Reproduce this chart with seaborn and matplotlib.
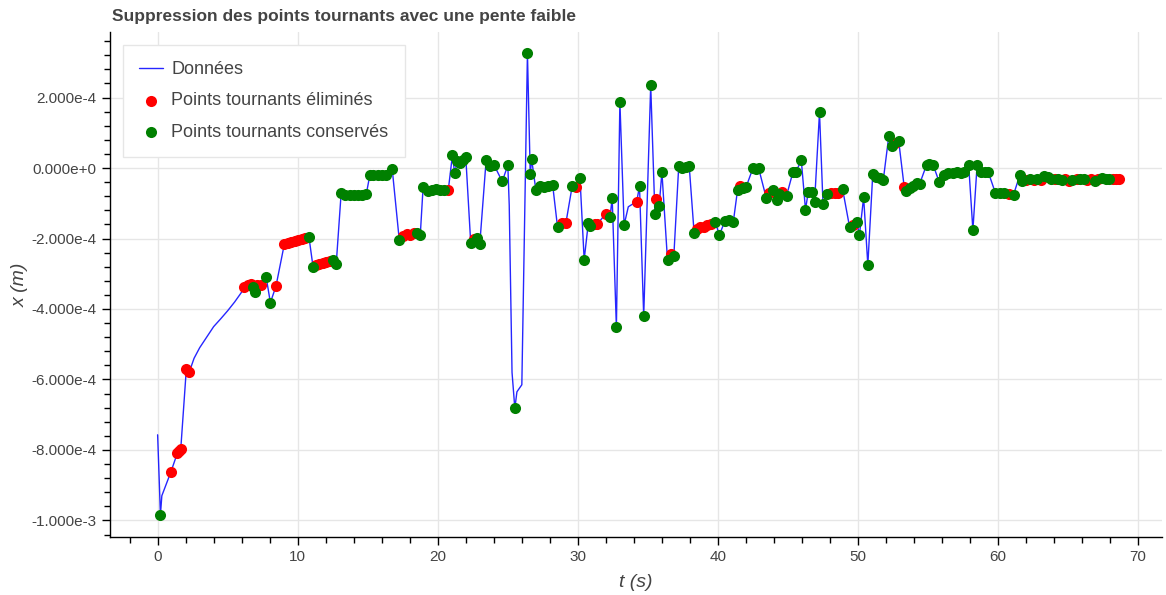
import numpy as np
import pandas as pd
import matplotlib
matplotlib.use("Agg")
import matplotlib.pyplot as plt
from matplotlib.ticker import MultipleLocator, AutoMinorLocator, FuncFormatter
import seaborn as sns

sns.set_theme(style="white")
plt.rcParams["font.family"] = ["Liberation Sans", "DejaVu Sans"]

# données : t (s), x (1e-4 m), statut du point
# n = simple point de la courbe, e = point tournant éliminé, c = point tournant conservé
t_vals = [
    0.00, 0.20, 0.30, 0.95, 1.40, 1.55, 1.65, 2.05, 2.25,
    2.60, 3.00, 3.50, 4.00, 4.50, 5.00, 5.50, 6.00,
    6.20, 6.45, 6.70, 6.80, 6.95, 7.10, 7.35, 7.75, 8.05, 8.45,
    9.05, 9.30, 9.55, 9.80, 10.05, 10.30, 10.50, 10.80,
    11.10, 11.30, 11.55, 11.80, 12.05, 12.30, 12.55, 12.75,
    13.10, 13.40, 13.70, 14.00, 14.30, 14.60, 14.90,
    15.15, 15.40, 15.70, 16.00, 16.30, 16.75,
    17.25, 17.55, 17.80, 18.05, 18.30, 18.55, 18.75,
    18.95, 19.30, 19.60, 19.90, 20.15, 20.45, 20.75,
    21.05, 21.20, 21.40, 21.60, 21.80, 22.00,
    22.35, 22.60, 22.80, 23.00,
    23.45, 23.70, 24.00, 24.60, 25.00,
    25.10, 25.30, 25.50, 25.65, 26.00, 26.40, 26.60, 26.70,
    27.00, 27.30, 27.60, 27.90, 28.20,
    28.55, 28.85, 29.15, 29.60, 29.90, 30.15,
    30.45, 30.75, 30.90, 31.20, 31.40,
    32.00, 32.30, 32.45, 32.75, 33.00, 33.30, 33.60,
    34.20, 34.40, 34.70, 35.20, 35.50, 35.60, 35.80, 36.00,
    36.40, 36.65, 36.85,
    37.20, 37.45, 37.70, 37.95,
    38.30, 38.50, 38.75, 39.00, 39.25, 39.50, 39.80, 40.10,
    40.50, 40.80, 41.10, 41.40, 41.60, 41.80, 42.00,
    42.50, 42.70, 42.90,
    43.45, 43.65, 43.95, 44.20, 44.35, 44.60, 44.90,
    45.35, 45.55, 45.95, 46.25, 46.45, 46.70, 46.90,
    47.25, 47.50, 47.80, 48.10, 48.35, 48.60, 48.90,
    49.40, 49.65, 49.90, 50.10, 50.40, 50.70,
    51.05, 51.30, 51.55, 51.80,
    52.20, 52.40, 52.65, 52.90,
    53.30, 53.45, 53.70, 53.95, 54.20, 54.40,
    54.90, 55.10, 55.35,
    55.80, 56.15, 56.45, 56.75, 57.05, 57.35, 57.60,
    57.90, 58.20, 58.50, 58.75, 59.05, 59.30,
    59.80, 60.10, 60.40, 60.80, 61.10,
    61.55, 61.70,
    62.00, 62.30, 62.55, 62.80, 63.05, 63.30, 63.55, 63.80, 64.05, 64.30,
    64.55, 64.80, 65.05, 65.30, 65.60, 65.85, 66.10, 66.35, 66.60, 66.90,
    67.15, 67.45, 67.70, 67.95, 68.20, 68.45, 68.60,
]
x_vals = [
    -7.57, -9.84, -9.30, -8.62, -8.10, -8.02, -7.98, -5.70, -5.80,
    -5.40, -5.10, -4.80, -4.50, -4.28, -4.05, -3.80, -3.52,
    -3.37, -3.32, -3.28, -3.37, -3.52, -3.33, -3.33, -3.10, -3.82, -3.35,
    -2.15, -2.13, -2.10, -2.07, -2.04, -2.00, -1.98, -1.95,
    -2.82, -2.76, -2.73, -2.70, -2.68, -2.65, -2.60, -2.72,
    -0.72, -0.76, -0.76, -0.76, -0.77, -0.77, -0.73,
    -0.20, -0.21, -0.21, -0.21, -0.20, -0.04,
    -2.04, -1.92, -1.88, -1.90, -1.83, -1.85, -1.90,
    -0.55, -0.65, -0.62, -0.60, -0.62, -0.62, -0.62,
    0.38, -0.15, 0.20, 0.15, 0.22, 0.30,
    -2.12, -2.00, -1.98, -2.15,
    0.22, 0.05, 0.10, -0.38, 0.08,
    -1.05, -5.80, -6.82, -6.35, -6.15, 3.26, -0.18, 0.25,
    -0.62, -0.52, -0.55, -0.50, -0.48,
    -1.68, -1.55, -1.55, -0.50, -0.55, -0.27,
    -2.60, -1.55, -1.65, -1.60, -1.58,
    -1.30, -1.38, -0.85, -4.52, 1.88, -1.62, -1.10,
    -0.95, -0.52, -4.20, 2.35, -1.30, -0.88, -1.08, -0.12,
    -2.62, -2.45, -2.50,
    0.05, 0.00, 0.02, 0.05,
    -1.85, -1.72, -1.68, -1.66, -1.63, -1.60, -1.52, -1.90,
    -1.50, -1.48, -1.52, -0.62, -0.50, -0.58, -0.55,
    0.00, -0.02, 0.00,
    -0.85, -0.72, -0.62, -0.90, -0.75, -0.68, -0.78,
    -0.12, -0.12, 0.22, -1.18, -0.67, -0.68, -0.95,
    1.58, -1.03, -0.75, -0.72, -0.72, -0.70, -0.60,
    -1.68, -1.62, -1.52, -1.90, -0.83, -2.75,
    -0.18, -0.25, -0.28, -0.35,
    0.92, 0.62, 0.70, 0.78,
    -0.55, -0.65, -0.58, -0.50, -0.42, -0.45,
    0.10, 0.12, 0.10,
    -0.40, -0.20, -0.15, -0.13, -0.12, -0.14, -0.12,
    0.08, -1.76, 0.08, -0.12, -0.12, -0.12,
    -0.70, -0.72, -0.72, -0.74, -0.76,
    -0.20, -0.37,
    -0.33, -0.30, -0.35, -0.30, -0.33, -0.22, -0.25, -0.30, -0.32, -0.30,
    -0.35, -0.32, -0.36, -0.34, -0.32, -0.30, -0.32, -0.35, -0.30, -0.36,
    -0.30, -0.28, -0.30, -0.30, -0.30, -0.31, -0.32,
]
statut_lignes = [
    "ncneeeeee", "nnnnnnnn", "eeecceecce", "eeeeeeec", "ceeeeecc",
    "ccccccc", "cccccc", "ceeeecc", "cccccce", "cccccc", "cecc", "ccccc",
    "nncnnccc", "ccccc", "ceecec", "cccee", "ecccccn", "eccccecc", "cec",
    "cccc", "ceeeeecc", "ccccecc", "ccc", "cecccec", "ccccccc", "ccceeec",
    "cecccc", "cccc", "ccec", "eccccc", "ccc", "ccccccc", "cccccc", "cccec",
    "cc", "ecececccec", "ceececceec", "eccceee",
]
statut = list("".join(statut_lignes))
assert len(t_vals) == len(x_vals) == len(statut), (len(t_vals), len(x_vals), len(statut))

df = pd.DataFrame({"t": t_vals, "x": np.array(x_vals) * 1e-4, "statut": statut})
elimines = df[df["statut"] == "e"]
conserves = df[df["statut"] == "c"]

fig = plt.figure(figsize=(11.66, 5.95), dpi=100)
ax = fig.add_axes([110 / 1166, 58 / 595, 1052 / 1166, 505 / 595])

sns.lineplot(data=df, x="t", y="x", sort=False, estimator=None, color="blue",
             lw=1, alpha=0.85, label="Données", ax=ax)
sns.scatterplot(data=elimines, x="t", y="x", color="red", s=64, linewidth=0,
                label="Points tournants éliminés", ax=ax, zorder=3)
sns.scatterplot(data=conserves, x="t", y="x", color="green", s=64, linewidth=0,
                label="Points tournants conservés", ax=ax, zorder=4)

ax.set_xlim(-3.4, 71.7)
ax.set_ylim(-1.047e-3, 3.86e-4)

# axes à la façon bokeh
gris = "#444444"
ax.xaxis.set_major_locator(MultipleLocator(10))
ax.xaxis.set_minor_locator(AutoMinorLocator(5))
ax.yaxis.set_major_locator(MultipleLocator(2e-4))
ax.yaxis.set_minor_locator(AutoMinorLocator(5))


def format_sci(v, pos):
    if abs(v) < 1e-12:
        return "0.000e+0"
    e = int(np.floor(np.log10(abs(v)) + 1e-9))
    return f"{v / 10 ** e:.3f}e{e:+d}"


ax.yaxis.set_major_formatter(FuncFormatter(format_sci))
ax.grid(True, which="major", color="#e6e6e6", lw=1)
for s in ["top", "right"]:
    ax.spines[s].set_visible(False)
for s in ["left", "bottom"]:
    ax.spines[s].set_color("black")
    ax.spines[s].set_linewidth(1)
ax.tick_params(which="major", direction="out", length=6, width=1, color="black",
               labelcolor=gris, labelsize=11, left=True, bottom=True)
ax.tick_params(which="minor", direction="out", length=4, width=1, color="black",
               left=True, bottom=True)

ax.set_xlabel("t (s)", fontstyle="italic", color=gris, fontsize=14, labelpad=7)
ax.set_ylabel("x (m)", fontstyle="italic", color=gris, fontsize=14, labelpad=2)
ax.set_title("Suppression des points tournants avec une pente faible", loc="left",
             fontweight="bold", color=gris, fontsize=12.5, pad=8, x=0.002)

leg = ax.legend(loc="upper left", bbox_to_anchor=(0.012, 0.974), borderaxespad=0,
                fontsize=13, labelcolor=gris, frameon=True, fancybox=False,
                framealpha=1, edgecolor="#e6e6e6", borderpad=0.9,
                labelspacing=0.78, handlelength=1.35, handletextpad=0.45)
leg.get_frame().set_linewidth(1)

plt.savefig("out.png", dpi=100)
plt.close()
